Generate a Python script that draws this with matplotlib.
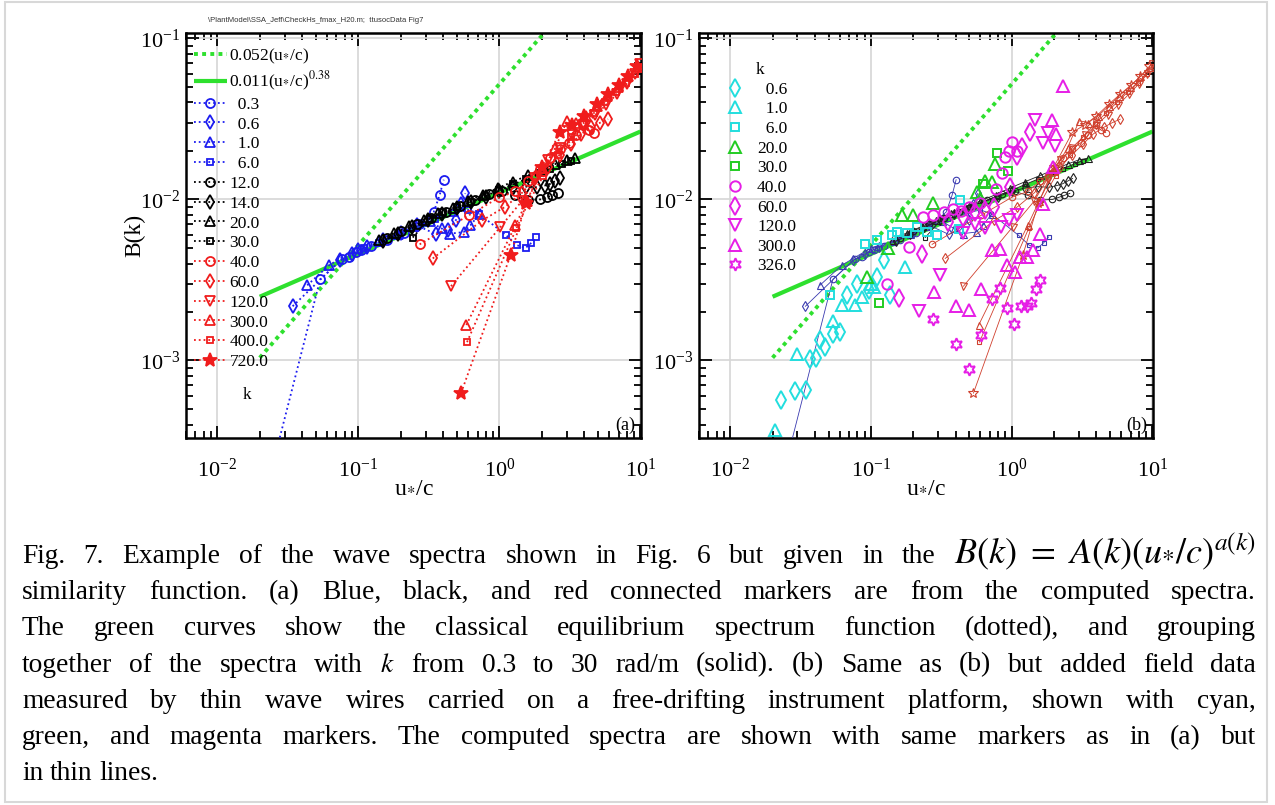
import numpy as np
import matplotlib
matplotlib.use('Agg')
import matplotlib.pyplot as plt
from matplotlib.patches import Rectangle

plt.rcParams['font.family'] = ['Liberation Serif', 'DejaVu Serif']
plt.rcParams['mathtext.fontset'] = 'stix'

# ---------------- data: computed spectra (panel a, repeated thin in panel b) ----------------
x_k03 = [0.022, 0.0537, 0.0766, 0.0865, 0.0968, 0.105, 0.123, 0.16, 0.21, 0.27, 0.342, 0.377, 0.403]
y_k03 = [1.5e-4, 3.2e-3, 4.24e-3, 4.4e-3, 4.72e-3, 4.88e-3, 5.12e-3, 5.6e-3, 6.2e-3, 7.0e-3, 8.34e-3, 1.06e-2, 1.325e-2]
x_k06 = [0.0342, 0.0747, 0.09, 0.115, 0.15, 0.2, 0.26, 0.357, 0.432, 0.495, 0.535, 0.574]
y_k06 = [2.17e-3, 4.19e-3, 4.6e-3, 5.1e-3, 5.6e-3, 6.2e-3, 6.9e-3, 6.07e-3, 6.45e-3, 7.5e-3, 9.4e-3, 1.09e-2]
x_k1 = [0.0434, 0.062, 0.1, 0.14, 0.19, 0.25, 0.32, 0.39, 0.449, 0.558, 0.623, 0.725]
y_k1 = [2.93e-3, 3.9e-3, 5.0e-3, 5.5e-3, 6.1e-3, 6.8e-3, 7.3e-3, 6.6e-3, 6.13e-3, 6.27e-3, 6.9e-3, 8.15e-3]
x_k6 = [0.11, 0.14, 0.19, 0.26, 0.35, 0.47, 0.6, 0.718, 1.12, 1.335, 1.536, 1.686, 1.83]
y_k6 = [5.0e-3, 5.4e-3, 6.0e-3, 6.8e-3, 7.6e-3, 8.2e-3, 8.6e-3, 8.15e-3, 5.98e-3, 5.19e-3, 5.0e-3, 5.37e-3, 5.85e-3]
x_k12 = [0.16, 0.2, 0.26, 0.33, 0.42, 0.53, 0.67, 0.85, 1.05, 1.3, 1.59, 1.95, 2.16, 2.37, 2.59]
y_k12 = [5.8e-3, 6.4e-3, 7.0e-3, 7.7e-3, 8.4e-3, 9.1e-3, 9.9e-3, 1.08e-2, 1.12e-2, 1.06e-2, 9.9e-3, 1.0e-2, 1.03e-2, 1.06e-2, 1.09e-2]
x_k14 = [0.15, 0.19, 0.24, 0.31, 0.39, 0.5, 0.63, 0.8, 1.0, 1.25, 1.55, 1.85, 2.1, 2.3, 2.5, 2.71]
y_k14 = [5.5e-3, 6.1e-3, 6.7e-3, 7.4e-3, 8.1e-3, 8.8e-3, 9.6e-3, 1.04e-2, 1.12e-2, 1.18e-2, 1.2e-2, 1.19e-2, 1.22e-2, 1.25e-2, 1.3e-2, 1.35e-2]
x_k20 = [0.14, 0.18, 0.23, 0.29, 0.37, 0.47, 0.6, 0.77, 0.98, 1.25, 1.6, 2.0, 2.5, 3.0, 3.46]
y_k20 = [5.6e-3, 6.2e-3, 6.8e-3, 7.5e-3, 8.2e-3, 8.9e-3, 9.8e-3, 1.07e-2, 1.18e-2, 1.29e-2, 1.41e-2, 1.53e-2, 1.66e-2, 1.76e-2, 1.80e-2]
x_k30 = [0.243, 0.32, 0.4, 0.5, 0.63, 0.79, 1.0, 1.25, 1.55, 1.9, 2.3, 2.8, 3.2]
y_k30 = [5.8e-3, 7.6e-3, 8.3e-3, 9.0e-3, 9.7e-3, 1.05e-2, 1.14e-2, 1.24e-2, 1.34e-2, 1.45e-2, 1.55e-2, 1.66e-2, 1.74e-2]
x_k40 = [0.272, 0.606, 1.0, 1.3, 1.6, 1.95, 2.3, 2.7, 3.1, 3.5, 3.95, 4.3, 4.66]
y_k40 = [5.26e-3, 7.96e-3, 1.03e-2, 1.12e-2, 1.3e-2, 1.55e-2, 1.8e-2, 2.05e-2, 2.25e-2, 2.5e-2, 2.9e-2, 2.7e-2, 2.6e-2]
x_k60 = [0.337, 0.754, 1.1, 1.45, 1.8, 2.2, 2.7, 3.2, 3.8, 4.5, 5.2, 5.9]
y_k60 = [4.3e-3, 7.4e-3, 9.0e-3, 1.1e-2, 1.35e-2, 1.6e-2, 1.9e-2, 2.2e-2, 2.55e-2, 2.8e-2, 3.0e-2, 3.15e-2]
x_k120 = [0.454, 1.016, 1.45, 1.8, 2.2, 2.7, 3.3, 4.0, 4.8, 5.7, 6.8, 8.0, 9.2, 10.0]
y_k120 = [2.89e-3, 6.74e-3, 9.8e-3, 1.35e-2, 1.75e-2, 2.1e-2, 2.5e-2, 2.9e-2, 3.35e-2, 3.85e-2, 4.5e-2, 5.2e-2, 6.0e-2, 6.9e-2]
x_k300 = [0.583, 1.3, 1.57, 2.0, 2.5, 3.02, 3.5, 4.1, 4.9, 5.8, 6.9, 8.2, 9.6]
y_k300 = [1.66e-3, 6.9e-3, 9.8e-3, 1.5e-2, 2.1e-2, 3.08e-2, 3.0e-2, 3.3e-2, 3.8e-2, 4.4e-2, 5.0e-2, 5.8e-2, 6.6e-2]
x_k400 = [0.59, 1.32, 1.6, 2.05, 2.6, 3.2, 3.9, 4.7, 5.6, 6.7, 7.9, 9.1]
y_k400 = [1.3e-3, 6.6e-3, 9.5e-3, 1.4e-2, 1.9e-2, 2.45e-2, 2.95e-2, 3.45e-2, 4.0e-2, 4.65e-2, 5.3e-2, 6.0e-2]
x_k720 = [0.535, 1.2, 1.55, 2.0, 2.7, 3.3, 4.0, 4.9, 5.9, 7.0, 8.2, 9.5]
y_k720 = [6.27e-4, 4.5e-3, 9.5e-3, 1.6e-2, 2.61e-2, 2.9e-2, 3.3e-2, 3.9e-2, 4.5e-2, 5.1e-2, 5.8e-2, 6.7e-2]

comp_labels = ['0.3', '0.6', '1.0', '6.0', '12.0', '14.0', '20.0', '30.0',
               '40.0', '60.0', '120.0', '300.0', '400.0', '720.0']

# ---------------- data: field measurements (panel b) ----------------
fx_c06 = [0.023, 0.0289, 0.0344, 0.0371, 0.041, 0.0437, 0.0474, 0.0537, 0.0598, 0.0676, 0.0796, 0.0962, 0.11, 0.123, 0.137]
fy_c06 = [5.69e-4, 6.5e-4, 6.56e-4, 1.02e-3, 1.03e-3, 1.34e-3, 1.22e-3, 1.47e-3, 1.51e-3, 2.55e-3, 3.0e-3, 2.73e-3, 3.3e-3, 4.19e-3, 2.55e-3]
fx_c1 = [0.0207, 0.0299, 0.0537, 0.0623, 0.0774, 0.0863, 0.10, 0.105, 0.175]
fy_c1 = [3.72e-4, 1.1e-3, 1.76e-3, 2.21e-3, 2.21e-3, 2.48e-3, 3.0e-3, 2.85e-3, 3.81e-3]
fx_c6 = [0.0514, 0.091, 0.11, 0.14, 0.153, 0.18, 0.212, 0.25, 0.294, 0.42, 0.43]
fy_c6 = [2.55e-3, 5.32e-3, 5.57e-3, 6.0e-3, 6.28e-3, 6.2e-3, 6.74e-3, 6.3e-3, 5.98e-3, 6.59e-3, 9.86e-3]
fx_g20 = [0.0937, 0.133, 0.166, 0.2, 0.278, 0.565, 0.6, 0.647, 0.72, 0.762]
fy_g20 = [3.3e-3, 4.96e-3, 7.96e-3, 7.96e-3, 9.48e-3, 1.11e-2, 1.01e-2, 1.31e-2, 1.28e-2, 1.66e-2]
fx_g30 = [0.115, 0.63, 0.783, 0.946]
fy_g30 = [2.26e-3, 1.25e-2, 1.94e-2, 1.5e-2]
fx_m40 = [0.131, 0.185, 0.236, 0.277, 0.33, 0.38, 0.44, 0.5, 0.6, 0.78, 0.85, 0.896, 0.96, 1.0, 1.085]
fy_m40 = [3.0e-3, 5.07e-3, 7.77e-3, 7.96e-3, 8.3e-3, 8.7e-3, 8.5e-3, 9.0e-3, 9.5e-3, 1.16e-2, 1.46e-2, 1.83e-2, 2.0e-2, 2.26e-2, 2.01e-2]
fx_m60 = [0.157, 0.23, 0.35, 0.45, 0.55, 0.65, 0.75, 0.97, 1.1, 1.18, 1.35]
fy_m60 = [2.43e-3, 4.61e-3, 7.2e-3, 7.8e-3, 8.3e-3, 8.6e-3, 9.0e-3, 1.19e-2, 1.85e-2, 2.11e-2, 2.61e-2]
fx_m120 = [0.218, 0.31, 0.45, 0.55, 0.65, 0.84, 0.95, 1.1, 1.46, 1.67, 1.82, 2.02]
fy_m120 = [2.03e-3, 3.38e-3, 6.2e-3, 7.0e-3, 6.6e-3, 6.74e-3, 7.5e-3, 8.0e-3, 3.1e-2, 2.23e-2, 2.6e-2, 2.16e-2]
fx_m300 = [0.281, 0.403, 0.5, 0.603, 0.728, 0.826, 0.92, 1.05, 1.15, 1.28, 1.42, 1.59, 1.68, 1.96, 2.08, 1.92, 2.32]
fy_m300 = [2.67e-3, 2.17e-3, 2.07e-3, 2.76e-3, 4.83e-3, 4.9e-3, 3.9e-3, 3.55e-3, 4.4e-3, 4.4e-3, 4.83e-3, 6.1e-3, 9.4e-3, 1.58e-2, 2.54e-2, 3.11e-2, 5.08e-2]
fx_m326 = [0.278, 0.403, 0.5, 0.606, 0.72, 0.826, 0.92, 1.04, 1.16, 1.28, 1.37, 1.49, 1.6]
fy_m326 = [1.82e-3, 1.26e-3, 8.83e-4, 1.44e-3, 2.4e-3, 2.8e-3, 2.13e-3, 1.68e-3, 2.17e-3, 2.17e-3, 2.28e-3, 2.76e-3, 3.18e-3]

field_labels = ['0.6', '1.0', '6.0', '20.0', '30.0', '40.0', '60.0', '120.0', '300.0', '326.0']

# reference curves B = A (u*/c)^a
curve_A = [0.052, 0.011]
curve_a = [1.0, 0.38]
curve_x = [0.02, 10.0]
curve_labels = ['0.052(u$_{*}$/c)', '0.011(u$_{*}$/c)$^{0.38}$']

# ---------------- styling ----------------
BLUE, BLACK, RED = '#1c1cf0', '#000000', '#f01c1c'
BLUE_T, BLACK_T, RED_T = '#3a3ab0', '#202020', '#d0402e'
CYAN, GREEN_M, MAG = '#22dede', '#22cc22', '#e61ee6'
GREEN_L = '#2ee02e'

comp_x = [x_k03, x_k06, x_k1, x_k6, x_k12, x_k14, x_k20, x_k30, x_k40, x_k60, x_k120, x_k300, x_k400, x_k720]
comp_y = [y_k03, y_k06, y_k1, y_k6, y_k12, y_k14, y_k20, y_k30, y_k40, y_k60, y_k120, y_k300, y_k400, y_k720]
comp_marker = ['o', 'd', '^', 's', 'o', 'd', '^', 's', 'o', 'd', 'v', '^', 's', '*']
comp_group = ['b', 'b', 'b', 'b', 'k', 'k', 'k', 'k', 'r', 'r', 'r', 'r', 'r', 'r']
comp_ms = {'o': 6.5, 'd': 7, '^': 7, 's': 4.8, 'v': 7, '*': 10}
colA = {'b': BLUE, 'k': BLACK, 'r': RED}
colB = {'b': BLUE_T, 'k': BLACK_T, 'r': RED_T}

field_x = [fx_c06, fx_c1, fx_c6, fx_g20, fx_g30, fx_m40, fx_m60, fx_m120, fx_m300, fx_m326]
field_y = [fy_c06, fy_c1, fy_c6, fy_g20, fy_g30, fy_m40, fy_m60, fy_m120, fy_m300, fy_m326]
field_marker = ['d', '^', 's', '^', 's', 'o', 'd', 'v', '^', (6, 1, 0)]
field_color = [CYAN, CYAN, CYAN, GREEN_M, GREEN_M, MAG, MAG, MAG, MAG, MAG]
field_ms = [9, 9, 5.5, 9, 5.5, 7.5, 9, 9, 9, 9]

FIG_W, FIG_H = 1275, 805
fig = plt.figure(figsize=(FIG_W / 100, FIG_H / 100), dpi=100)
axA = fig.add_axes([186 / FIG_W, 1 - 438 / FIG_H, 455 / FIG_W, 405 / FIG_H])
axB = fig.add_axes([699 / FIG_W, 1 - 438 / FIG_H, 454 / FIG_W, 405 / FIG_H])

XLIM = (0.006, 10.1)
YLIM = (3.3e-4, 0.108)


def style_axes(ax):
    ax.set_xscale('log')
    ax.set_yscale('log')
    ax.set_xlim(*XLIM)
    ax.set_ylim(*YLIM)
    ax.grid(True, which='major', color='#d6d6d6', lw=1.2)
    ax.set_axisbelow(True)
    ax.tick_params(which='both', direction='in', top=True, right=True, width=1.3, labelsize=16)
    ax.tick_params(which='major', length=9)
    ax.tick_params(which='minor', length=5)
    ax.tick_params(axis='x', which='both', pad=15)
    ax.tick_params(axis='y', which='both', pad=4)
    for s in ax.spines.values():
        s.set_linewidth(1.8)


for ax in (axA, axB):
    style_axes(ax)

# green reference curves
curve_handles = []
for ax in (axA, axB):
    xs = np.array(curve_x)
    h1, = ax.plot(xs, curve_A[0] * xs ** curve_a[0], color=GREEN_L, lw=2.8,
                  linestyle=(0, (1, 1.1)), zorder=2)
    h2, = ax.plot(xs, curve_A[1] * xs ** curve_a[1], color=GREEN_L, lw=3.0,
                  linestyle='-', zorder=2, solid_capstyle='butt')
    if ax is axA:
        curve_handles = [h1, h2]

# panel a: computed spectra
comp_handles = []
for xs, ys, m, g in zip(comp_x, comp_y, comp_marker, comp_group):
    filled = (m == '*')
    h, = axA.plot(xs, ys, linestyle=':', lw=1.3, color=colA[g], marker=m,
                  ms=comp_ms[m], mew=1.3,
                  mfc=colA[g] if filled else 'none', mec=colA[g], zorder=3)
    comp_handles.append(h)

# panel b: computed spectra, thin
for xs, ys, m, g in zip(comp_x, comp_y, comp_marker, comp_group):
    axB.plot(xs, ys, linestyle='-', lw=0.6, color=colB[g], marker=m,
             ms=comp_ms[m] * 0.72, mew=0.8, mfc='none', mec=colB[g], zorder=3)

# panel b: field data
field_handles = []
for xs, ys, m, c, ms in zip(field_x, field_y, field_marker, field_color, field_ms):
    h, = axB.plot(xs, ys, linestyle='none', marker=m, ms=ms, mew=1.4,
                  mfc='none', mec=c, zorder=4)
    field_handles.append(h)

# legends
legA = axA.legend(curve_handles + comp_handles,
                  curve_labels + ['  ' + l if len(l) == 3 else l for l in comp_labels],
                  loc='upper left', bbox_to_anchor=(0.0, 0.985), frameon=False,
                  fontsize=12.5, handlelength=1.9, handletextpad=0.15,
                  labelspacing=0.21, borderaxespad=0.25, borderpad=0.2, numpoints=1)
axA.text(0.125, 0.106, 'k', transform=axA.transAxes, fontsize=12.5, va='center', ha='left')

legB = axB.legend(field_handles, ['  ' + l if len(l) == 3 else l for l in field_labels],
                  title='k', title_fontsize=12.5,
                  loc='upper left', bbox_to_anchor=(0.04, 0.945), frameon=False,
                  fontsize=12.5, handlelength=1.3, handletextpad=0.6,
                  labelspacing=0.2, borderaxespad=0.2, borderpad=0.2, numpoints=1)

axA.text(0.965, 0.032, '(a)', transform=axA.transAxes, fontsize=13, ha='center', va='center')
axB.text(0.965, 0.032, '(b)', transform=axB.transAxes, fontsize=13, ha='center', va='center')

axA.set_ylabel('B(k)', fontsize=17)
axA.yaxis.set_label_coords(-0.09, 0.5)
for ax in (axA, axB):
    ax.set_xlabel('u$_{*}$/c', fontsize=17)
    ax.xaxis.set_label_coords(0.5, -0.095)

# header text and frame
fig.text(208 / FIG_W, 1 - 20 / FIG_H, r'\PlantModel\SSA_Jeff\CheckHs_fmax_H20.m;  ttusocData Fig7',
         fontsize=5.5, family='Liberation Sans', color='#333333', va='center', ha='left')
fig.patches.append(Rectangle((5 / FIG_W, 1 - 802 / FIG_H), 1262 / FIG_W, 800 / FIG_H,
                             transform=fig.transFigure, fill=False, edgecolor='#d8d8d8', lw=1.5))

# caption, justified
caption_lines = [
    "Fig. 7. Example of the wave spectra shown in Fig. 6 but given in the $B(k)\\ =\\ A(k)(u_{*}/c)^{a(k)}$",
    "similarity function. (a) Blue, black, and red connected markers are from the computed spectra.",
    "The green curves show the classical equilibrium spectrum function (dotted), and grouping",
    "together of the spectra with $k$ from 0.3 to 30 rad/m (solid). (b) Same as (b) but added field data",
    "measured by thin wave wires carried on a free-drifting instrument platform, shown with cyan,",
    "green, and magenta markers. The computed spectra are shown with same markers as in (a) but",
    "in thin lines.",
]
CAP_FS = 19.8
MATH_FS = 26
X0, X1 = 22, 1256
base0, dy = 563, 36.2
space_px = CAP_FS * 100 / 72 * 0.25
renderer = fig.canvas.get_renderer()
for i, line in enumerate(caption_lines):
    ybase = 1 - (base0 + i * dy) / FIG_H
    if '$B(k)' in line:
        head, math = line.split(' $', 1)
        words = head.split(' ') + ['$' + math]
    else:
        words = line.split(' ')
    texts = []
    for w in words:
        fs = MATH_FS if w.startswith('$B') else CAP_FS
        texts.append(fig.text(0, ybase, w, fontsize=fs, va='baseline', ha='left'))
    widths = [t.get_window_extent(renderer).width for t in texts]
    if i < len(caption_lines) - 1:
        gap = max((X1 - X0 - sum(widths)) / (len(words) - 1), 2.0)
    else:
        gap = space_px
    x = X0
    for t, w in zip(texts, widths):
        t.set_x(x / FIG_W)
        x += w + gap

fig.savefig('out.png', dpi=100)
